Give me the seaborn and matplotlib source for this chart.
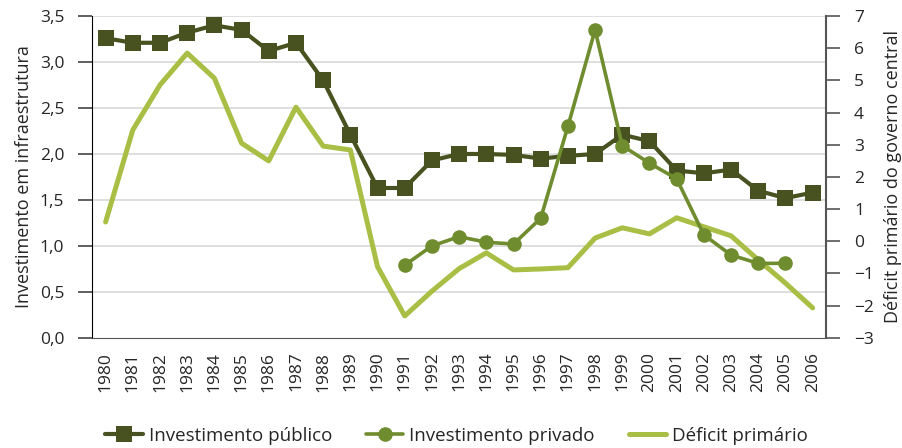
import matplotlib
matplotlib.use("Agg")
import matplotlib.pyplot as plt
import matplotlib.transforms as mtransforms
import numpy as np
import pandas as pd
import seaborn as sns

nan = np.nan
years = list(range(1980, 2007))
publico = [3.26, 3.21, 3.21, 3.32, 3.40, 3.35, 3.12, 3.21, 2.80, 2.21, 1.63, 1.63, 1.93, 2.00,
           2.00, 1.99, 1.95, 1.98, 2.00, 2.21, 2.14, 1.82, 1.79, 1.83, 1.60, 1.52, 1.58]
privado = [nan] * 11 + [0.79, 1.00, 1.10, 1.04, 1.02, 1.30, 2.30, 3.35, 2.09, 1.90, 1.73, 1.12,
                        0.90, 0.81, 0.81, nan]
deficit = [0.60, 3.46, 4.86, 5.85, 5.07, 3.05, 2.50, 4.17, 2.96, 2.84, -0.79, -2.32, -1.55, -0.85,
           -0.36, -0.89, -0.86, -0.82, 0.10, 0.42, 0.23, 0.73, 0.45, 0.17, -0.58, -1.30, -2.07]

left_ticks = [0.0, 0.5, 1.0, 1.5, 2.0, 2.5, 3.0, 3.5]
left_labels = ["0,0", "0,5", "1,0", "1,5", "2,0", "2,5", "3,0", "3,5"]
right_ticks = [-3, -2, -1, 0, 1, 2, 3, 4, 5, 6, 7]

df = pd.DataFrame({"ano": years, "publico": publico, "privado": privado, "deficit": deficit})

sns.set_style("white")
plt.rcParams['font.family'] = ['Open Sans', 'DejaVu Sans']
plt.rcParams['font.size'] = 13

c_pub = "#485220"
c_priv = "#6f8c2e"
c_def = "#a8be44"
grid_c = "#d9d9d9"

fig = plt.figure(figsize=(9.02, 4.48), dpi=100)
ax1 = fig.add_axes([0.102, 0.246, 0.814, 0.718])
ax2 = ax1.twinx()
ax1.set_zorder(ax2.get_zorder() + 1)
ax1.patch.set_visible(False)

# deficit on the right axis, drawn underneath
sns.lineplot(data=df, x="ano", y="deficit", ax=ax2, color=c_def, linewidth=3.6,
             label="Déficit primário", legend=False)
sns.lineplot(data=df, x="ano", y="privado", ax=ax1, color=c_priv, linewidth=2.6,
             marker="o", markersize=10.5, markeredgewidth=0, label="Investimento privado", legend=False)
sns.lineplot(data=df, x="ano", y="publico", ax=ax1, color=c_pub, linewidth=3,
             marker="s", markersize=11.5, markeredgewidth=0, label="Investimento público", legend=False)
ax1.lines[-1].set_zorder(2.5)
ax1.lines[0].set_zorder(3)

ax1.set_xlim(1979.5, 2006.5)
ax1.set_ylim(0, 3.5)
ax2.set_ylim(-3, 7)

# gridlines behind everything, in left-axis units
blend = mtransforms.blended_transform_factory(ax2.transAxes, ax1.transData)
for v in left_ticks[1:]:
    ax2.plot([0, 1], [v, v], transform=blend, color=grid_c, linewidth=1.2, zorder=0)

ax1.set_xticks(years)
ax1.set_xticklabels([str(y) for y in years], rotation=90)
ax1.set_xticks(np.arange(1979.5, 2007, 1), minor=True)
ax1.tick_params(axis="x", which="major", length=0, pad=10, labelsize=12.5)
ax1.tick_params(axis="x", which="minor", length=10, width=1, color="#555555")

ax1.set_yticks(left_ticks)
ax1.set_yticklabels(left_labels)
ax1.tick_params(axis="y", length=10, width=1.2, color="#444444", pad=10, labelsize=12.5, left=True)
ax2.set_yticks(right_ticks)
ax2.tick_params(axis="y", length=10, width=1.2, color="#555555", pad=10, labelsize=12.5, right=True)

ax1.set_xlabel("")
ax1.set_ylabel("Investimento em infraestrutura", fontsize=13, labelpad=5)
ax2.set_ylabel("Déficit primário do governo central", fontsize=13, labelpad=7)

ax1.spines["top"].set_visible(False)
ax1.spines["right"].set_visible(False)
ax1.spines["left"].set_color("black")
ax1.spines["bottom"].set_color("#555555")
for s in ["left", "bottom", "top"]:
    ax2.spines[s].set_visible(False)
ax2.spines["right"].set_color("#555555")
ax2.spines["right"].set_linewidth(1.5)

h1, l1 = ax1.get_legend_handles_labels()
h2, l2 = ax2.get_legend_handles_labels()
handles = [h1[1], h1[0], h2[0]]
labels = [l1[1], l1[0], l2[0]]
fig.legend(handles, labels, loc="lower left", bbox_to_anchor=(0.098, -0.03), ncol=3, frameon=False,
           fontsize=13.5, handlelength=2.0, handletextpad=0.32, columnspacing=1.8)

fig.savefig("out.png", dpi=100)
